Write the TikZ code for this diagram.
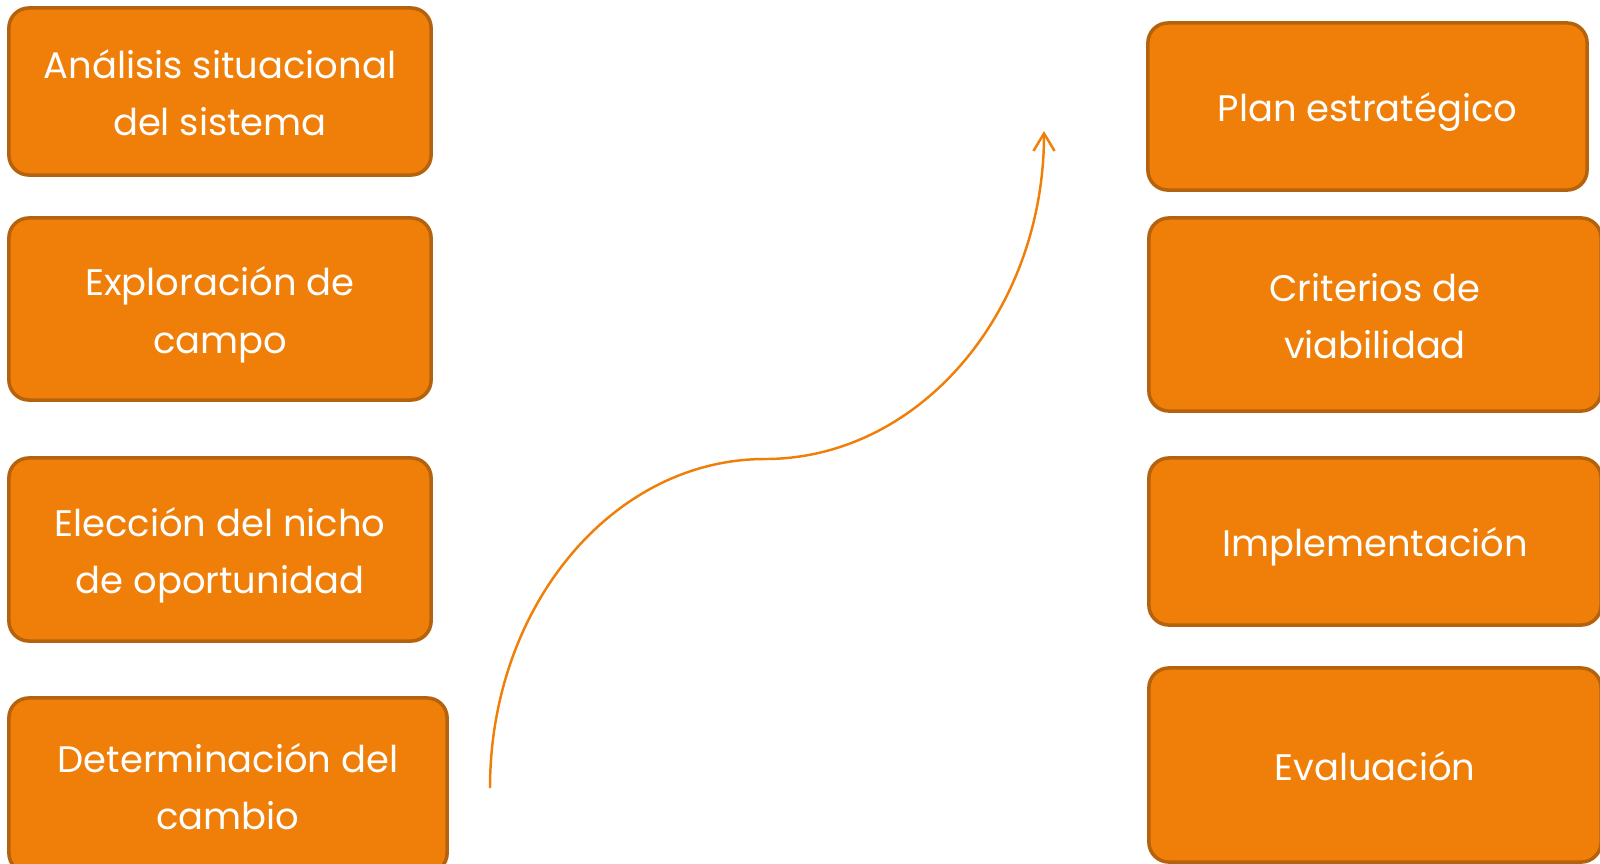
\documentclass[tikz,border=0pt]{standalone}
\usepackage{fontspec}
\setmainfont{Poppins}
\usepackage{xcolor}
\usepackage{tikz}
\usetikzlibrary{arrows.meta}

\definecolor{naranja}{HTML}{F07F09}
\definecolor{borde}{HTML}{B5620E}

\begin{document}
\begin{tikzpicture}[x=0.01cm, y=-0.01cm,
    etapa/.style={draw=borde, fill=naranja, line width=1pt, rounded corners=0.2cm,
        text=white, align=center, inner sep=0pt,
        font=\fontsize{10.5}{16.4}\selectfont, text height=8.8pt, text depth=0pt},
    dos lineas/.style={text height=25.2pt},
    flecha/.style={draw=naranja, line width=0.7pt, -{Straight Barb[length=5pt,width=6pt]}}]
    \useasboundingbox (0,0) rectangle (1600,863);
    % etapas de la izquierda
    \node[etapa, dos lineas, minimum width=4.22cm, minimum height=1.67cm] (analisis) at (220,91.5)
        {Análisis situacional\\del sistema};
    \node[etapa, dos lineas, minimum width=4.22cm, minimum height=1.82cm] (exploracion) at (220,309)
        {Exploración de\\campo};
    \node[etapa, dos lineas, minimum width=4.22cm, minimum height=1.83cm] (eleccion) at (220,549.5)
        {Elección del nicho\\de oportunidad};
    \node[etapa, dos lineas, minimum width=4.38cm, minimum height=1.75cm] (determinacion) at (228,785.5)
        {Determinación del\\cambio};
    % etapas de la derecha
    \node[etapa, minimum width=4.39cm, minimum height=1.67cm] (plan) at (1367.5,106.5)
        {Plan estratégico};
    \node[etapa, dos lineas, minimum width=4.52cm, minimum height=1.93cm] (criterios) at (1375,314.5)
        {Criterios de\\viabilidad};
    \node[etapa, minimum width=4.52cm, minimum height=1.67cm] (implementacion) at (1375,541.5)
        {Implementación};
    \node[etapa, minimum width=4.52cm, minimum height=1.94cm] (evaluacion) at (1375,765)
        {Evaluación};
    % curva que sube de un grupo al otro
    \coordinate (inicio) at (490,788);
    \coordinate (medio) at (765,459);
    \coordinate (punta) at (1044,131);
    \draw[flecha] (inicio) .. controls (490,606) and (613,459) .. (medio)
        .. controls (919,459) and (1044,312) .. (punta);
\end{tikzpicture}
\end{document}
